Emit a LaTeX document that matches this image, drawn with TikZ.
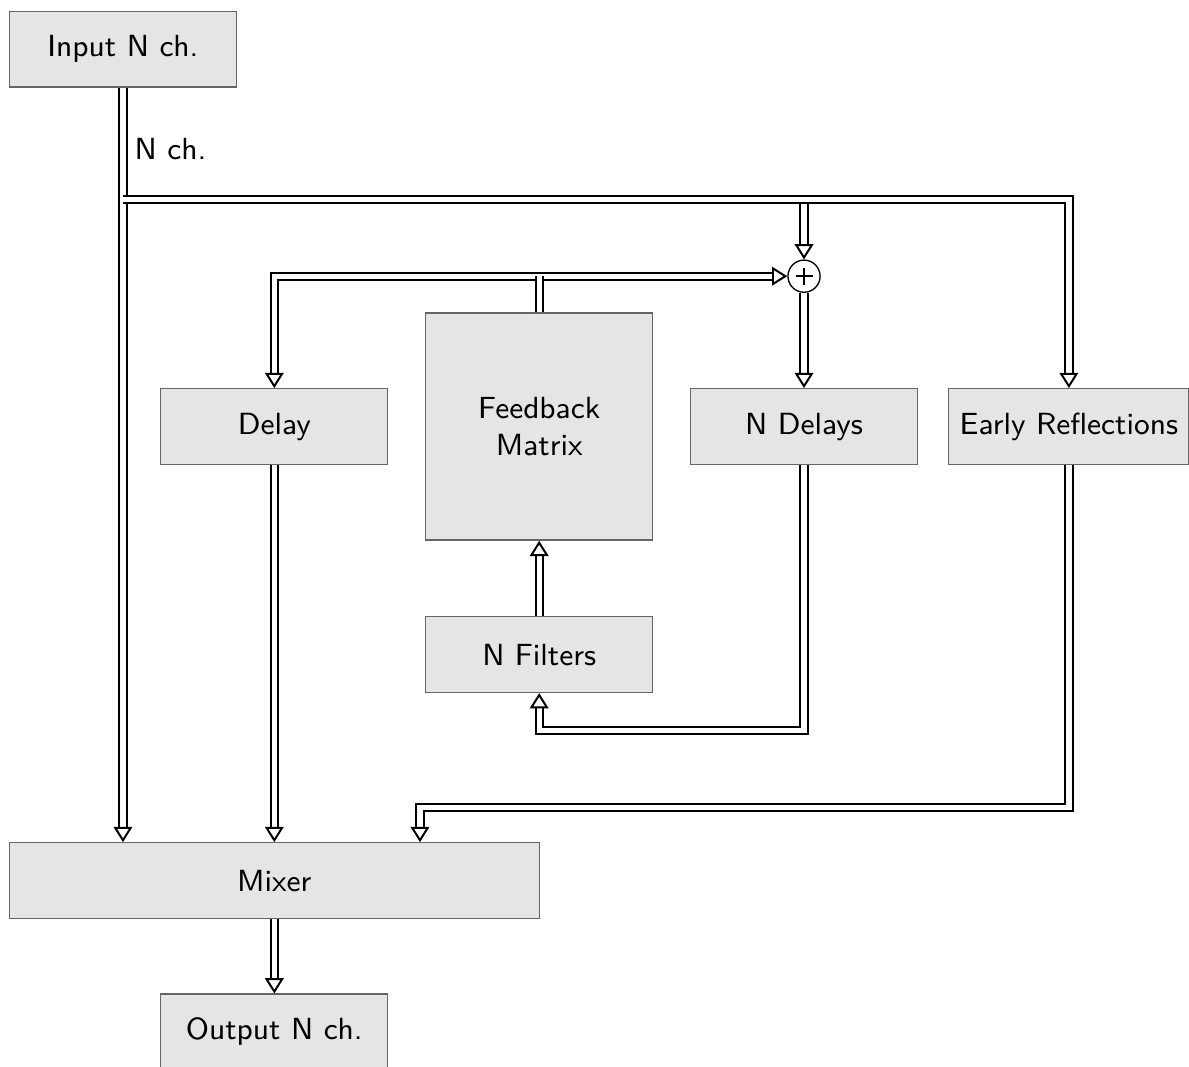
\documentclass[tikz,border=0pt]{standalone}
\usepackage{tikz}
\usetikzlibrary{arrows.meta,positioning}

\tikzset{
  block/.style={draw=black!60, fill=black!10, minimum width=2.4cm, minimum height=0.8cm, align=center},
  dline/.style={double, double distance=1.6pt, line width=0.6pt, ->},
  sumnode/.style={circle, draw, thin, minimum size=0.34cm, inner sep=0pt,
    path picture={\draw[line width=0.6pt] (path picture bounding box.center) +(-0.09,0) -- +(0.09,0)
                        (path picture bounding box.center) +(0,-0.09) -- +(0,0.09);}},
  >={Triangle[open,length=4.6pt,width=5.6pt]}
}

\begin{document}
\begin{tikzpicture}[font=\sffamily\fontsize{9.2}{11.4}\selectfont]
\useasboundingbox (0,0) rectangle (12.57,-11.27);
\node[block] (input) at (1.3,-0.52) {Input N ch.};
\node[block] (delay) at (2.9,-4.51) {Delay};
\node[block, minimum height=2.4cm] (fbm) at (5.7,-4.51) {Feedback\\Matrix};
\node[block] (ndelays) at (8.5,-4.51) {N Delays};
\node[block] (early) at (11.3,-4.51) {Early Reflections};
\node[block] (filters) at (5.7,-6.92) {N Filters};
\node[block, minimum width=5.6cm] (mixer) at (2.9,-9.31) {Mixer};
\node[block] (output) at (2.9,-10.91) {Output N ch.};
\node[sumnode] (sum) at (8.5,-2.92) {};

\coordinate (split) at (1.3,-2.11);
\coordinate (ret) at (8.5,-7.72);
\coordinate (erin) at (4.44,-8.54);

% input side
\draw[dline] (input.south) -- (input.south |- mixer.north);
\path (input.south) -- (split) node[pos=0.55, right] {N ch.};
\draw[dline] (split) -| (sum.north);
\draw[dline] (split) -| (early.north);

% feedback loop
\draw[dline] (sum.south) -- (ndelays.north);
\draw[dline,<->] (delay.north) |- (sum.west);
\draw[dline,-] (fbm.north) -- (fbm.north |- sum.west);
\draw[dline] (ndelays.south) -- (ret) -| (filters.south);
\draw[dline] (filters.north) -- (fbm.south);

% to the mixer
\draw[dline] (delay.south) -- (delay.south |- mixer.north);
\draw[dline] (early.south) |- (erin) -- (erin |- mixer.north);
\draw[dline] (mixer.south) -- (output.north);
\end{tikzpicture}
\end{document}
